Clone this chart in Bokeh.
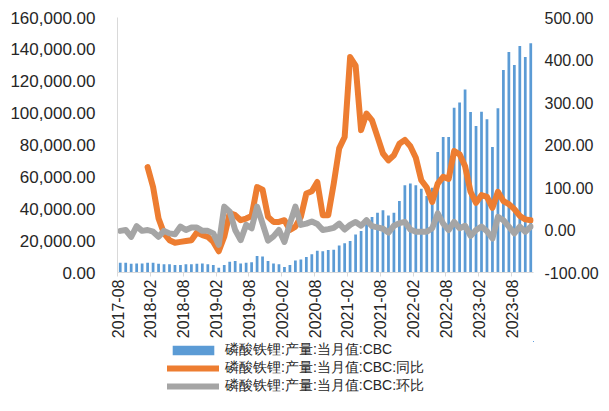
import numpy as np
from bokeh.plotting import figure
from bokeh.layouts import column
from bokeh.models import (ColumnDataSource, Range1d, LinearAxis, FixedTicker,
                          NumeralTickFormatter, Legend, LegendItem)
from bokeh.embed import file_html
from bokeh.resources import INLINE

# monthly data, 2017-08 .. 2023-11
output = [6100, 6100, 5500, 5700, 5700, 6100, 6100, 5500, 5100, 5100,
          4700, 4700, 5100, 5100, 5500, 5700, 5100, 4700, 3000, 4700,
          6800, 7200, 5700, 6100, 6500, 10300, 10000, 7200, 5700, 5100,
          3400, 4700, 7600, 8200, 9700, 11400, 13700, 13400, 14100, 14300,
          17000, 18300, 19700, 23900, 26000, 32300, 34800, 37500, 39000, 35800,
          37500, 44800, 54700, 55900, 54700, 52600, 48000, 53200, 75600, 85000,
          85000, 103400, 106600, 114900, 100700, 91900, 100900, 96100, 78700, 103000,
          127000, 138300, 130200, 142100, 135200, 143800]

yoy = [None, None, None, None, None, 148, 101, 27, -8, -24,
       -30, -28, -26, -24, -6, -12, -16, -28, -50, -16,
       40, 35, 23, 27, 33, 101, 95, 31, 19, 19,
       23, 0, 8, 31, 86, 91, 113, 35, 35, 109,
       192, 219, 407, 387, 235, 274, 258, 219, 180, 164,
       176, 203, 212, 197, 170, 117, 100, 66, 109, 125,
       120, 186, 178, 150, 90, 64, 82, 78, 52, 90,
       68, 61, 49, 33, 25, 23]

mom = [-2, 0, -16, 9, -2, 0, -4, -16, -2, -8,
       -10, 8, 0, 6, 6, -2, -2, -8, -35, 55,
       43, 0, -24, 12, 4, 55, 15, -25, -15, 0,
       -28, 15, 55, 12, 15, 20, 14, 0, 2, 5,
       15, 1, 12, 19, 10, 23, 9, 6, 3, -6,
       10, 16, 19, 1, -4, -4, -4, 4, 39, 15,
       0, 19, 4, 10, -14, 0, 8, -3, -20, 31,
       23, 8, -8, 8, -4, 8]

tick_labels = ["2017-08", "2018-02", "2018-08", "2019-02", "2019-08", "2020-02",
               "2020-08", "2021-02", "2021-08", "2022-02", "2022-08", "2023-02",
               "2023-08"]

series_names = ["磷酸铁锂:产量:当月值:CBC",
                "磷酸铁锂:产量:当月值:CBC:同比",
                "磷酸铁锂:产量:当月值:CBC:环比"]

BLUE, ORANGE, GREY = "#5B9BD5", "#ED7D31", "#A5A5A5"
FONT = "Liberation Sans"
TXT = "#262626"

n = len(output)
src = ColumnDataSource(dict(
    x=np.arange(n) + 0.5,
    output=output,
    yoy=np.array(yoy, dtype=float),
    mom=mom,
))


def draw_series(fig, **kw):
    b = fig.vbar(x="x", top="output", width=0.5, source=src,
                 fill_color=BLUE, line_color=None)
    a = fig.line(x="x", y="yoy", source=src, line_color=ORANGE, line_width=6,
                 line_join="round", line_cap="round", **kw)
    c = fig.line(x="x", y="mom", source=src, line_color=GREY, line_width=6,
                 line_join="round", line_cap="round", **kw)
    return b, a, c


p = figure(width=601, height=341, output_backend="svg", toolbar_location=None,
           x_range=Range1d(0, n), y_range=Range1d(0, 160000))
p.min_border_left = 117
p.min_border_right = 66
p.min_border_top = 17
p.min_border_bottom = 69
p.outline_line_color = None
p.xgrid.grid_line_color = None
p.ygrid.grid_line_color = None
p.extra_y_ranges = {"pct": Range1d(-100, 500)}

draw_series(p, y_range_name="pct")

# x axis
xa = p.xaxis[0]
xa.ticker = FixedTicker(ticks=[6 * i for i in range(len(tick_labels))])
xa.major_label_overrides = {6 * i: t for i, t in enumerate(tick_labels)}
xa.major_label_orientation = np.pi / 2
xa.minor_tick_line_color = None
xa.major_tick_in = 0
xa.major_tick_out = 4
xa.major_label_standoff = 3
xa.axis_line_color = "#D9D9D9"
xa.major_tick_line_color = "#D9D9D9"

# left axis
ya = p.yaxis[0]
ya.ticker = FixedTicker(ticks=list(range(0, 160001, 20000)))
ya.formatter = NumeralTickFormatter(format="0,0.00")
ya.minor_tick_line_color = None
ya.major_tick_in = 0
ya.major_tick_out = 0
ya.major_label_standoff = 22
ya.axis_line_color = "#D9D9D9"

# right axis
ra = LinearAxis(y_range_name="pct")
ra.ticker = FixedTicker(ticks=list(range(-100, 501, 100)))
ra.formatter = NumeralTickFormatter(format="0.00")
ra.minor_tick_line_color = None
ra.major_tick_in = 0
ra.major_tick_out = 0
ra.major_label_standoff = 11
ra.axis_line_color = None
p.add_layout(ra, "right")

for ax in (xa, ya, ra):
    ax.major_label_text_font = FONT
    ax.major_label_text_font_size = "16px"
    ax.major_label_text_color = TXT
ya.major_label_text_font_size = "17px"

# legend strip below the chart (same series, view range kept empty)
lg = figure(width=601, height=54, output_backend="svg", toolbar_location=None,
            x_axis_type=None, y_axis_type=None,
            x_range=Range1d(-1000, -999), y_range=Range1d(-1e9, -1e9 + 1),
            min_border=0)
lg.outline_line_color = None
lg.xgrid.grid_line_color = None
lg.ygrid.grid_line_color = None
r_bar, r_yoy, r_mom = draw_series(lg)

legend = Legend(items=[
    LegendItem(label=series_names[0], renderers=[r_bar]),
    LegendItem(label=series_names[1], renderers=[r_yoy]),
    LegendItem(label=series_names[2], renderers=[r_mom]),
], location=(50, 0))
legend.label_text_font = "Liberation Sans"
legend.label_text_font_size = "14px"
legend.label_text_line_height = 1.0
legend.label_text_color = TXT
legend.glyph_width = 52
legend.glyph_height = 12
legend.label_height = 17
legend.label_standoff = 6
legend.spacing = 0
legend.padding = 0
legend.margin = 0
legend.border_line_color = None
legend.background_fill_alpha = 0
lg.add_layout(legend, "center")

layout = column(p, lg, spacing=0)
open("out.html", "w").write(file_html(layout, INLINE))
